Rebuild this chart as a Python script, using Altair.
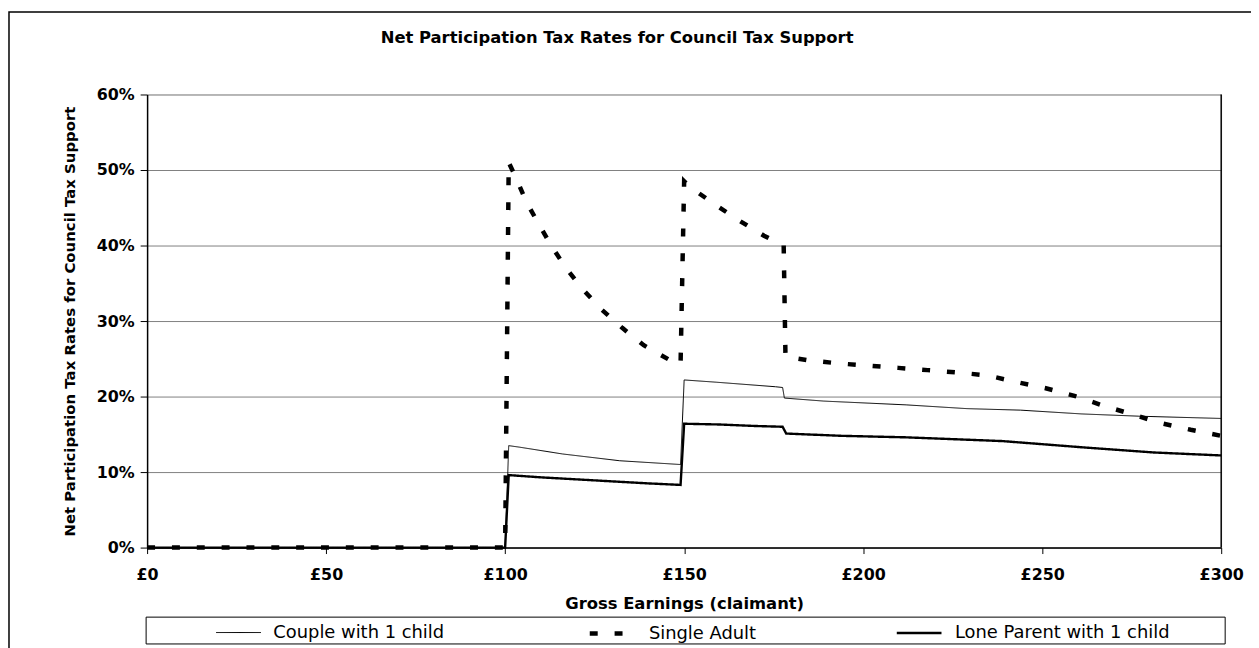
import altair as alt
import pandas as pd

series_names = ["Couple with 1 child", "Single Adult", "Lone Parent with 1 child"]

couple_x = [0, 100, 101, 104, 116, 132, 149, 150, 159, 175.5, 177.5, 178, 189, 212, 229, 244, 261, 277, 300]
couple_y = [0, 0, 13.5, 13.3, 12.4, 11.5, 11.0, 22.2, 21.9, 21.3, 21.2, 19.8, 19.4, 18.9, 18.4, 18.2, 17.7, 17.4, 17.1]

single_x = [0, 100, 101, 103, 105.8, 109.3, 113, 117, 121.7, 127, 132.7, 138.7, 145.7, 149,
            150, 151.5, 158.7, 165.4, 172.3, 177.8, 178.3, 184.7, 193, 201, 209.8, 218, 226,
            234.7, 243, 251, 259, 267, 275.5, 283, 291.5, 300]
single_y = [0, 0, 51.0, 49.0, 45.9, 42.9, 39.9, 37.0, 34.2, 31.5, 29.1, 26.8, 24.9, 24.3,
            48.5, 47.8, 45.4, 43.3, 41.3, 40.0, 25.3, 24.8, 24.4, 24.1, 23.8, 23.5, 23.2,
            22.8, 21.9, 21.1, 20.1, 18.8, 17.6, 16.5, 15.6, 14.8]

lone_x = [0, 100, 101, 110, 125, 140, 149, 150, 160, 170, 177.5, 178.5, 194, 212, 231, 239, 262, 281, 300]
lone_y = [0, 0, 9.6, 9.3, 8.9, 8.5, 8.3, 16.4, 16.3, 16.1, 16.0, 15.1, 14.8, 14.6, 14.25, 14.1, 13.25, 12.6, 12.2]

x_ticks = [0, 50, 100, 150, 200, 250, 300]
y_ticks = [0, 10, 20, 30, 40, 50, 60]

rows = []
for name, xs, ys in [(series_names[0], couple_x, couple_y),
                     (series_names[1], single_x, single_y),
                     (series_names[2], lone_x, lone_y)]:
    for i, (xv, yv) in enumerate(zip(xs, ys)):
        rows.append({"series": name, "earnings": xv, "rate": yv, "order": i})
df = pd.DataFrame(rows)

W, H = 1081, 456
FONT = "DejaVu Sans"

legend = alt.Legend(
    orient="none", legendX=69, legendY=517.5, direction="horizontal", title=None,
    labelFont=FONT, labelFontSize=18, labelColor="black", labelLimit=400, symbolType="stroke",
    symbolSize=2025, labelOffset=12, columnPadding=136, padding=0,
)

lines = alt.Chart(df).mark_line(strokeCap="butt").encode(
    x=alt.X("earnings:Q", scale=alt.Scale(domain=[0, 300], nice=False, zero=False),
            axis=alt.Axis(values=x_ticks, labelExpr="'£' + datum.value",
                          title="Gross Earnings (claimant)", grid=False, labelFlush=False,
                          labelFont=FONT, labelFontSize=16, labelFontWeight="bold", labelColor="black",
                          titleFont=FONT, titleFontSize=16.5, titleFontWeight="bold", titleColor="black",
                          titleX=W / 2, titleY=56, titleBaseline="middle",
                          tickSize=6, labelPadding=13, tickColor="black",
                          domainColor="black", domainWidth=1.5)),
    y=alt.Y("rate:Q", scale=alt.Scale(domain=[0, 60], nice=False),
            axis=alt.Axis(values=y_ticks, labelExpr="datum.value + '%'",
                          title="Net Participation Tax Rates for Council Tax Support",
                          grid=True, gridColor="#808080", gridWidth=1, labelFlush=False,
                          labelFont=FONT, labelFontSize=16, labelFontWeight="bold", labelColor="black",
                          titleFont=FONT, titleFontSize=15, titleFontWeight="bold", titleColor="black",
                          titleX=-78.5, titleY=H / 2, titleAlign="center", titleBaseline="middle",
                          titleAngle=270,
                          tickSize=7, labelPadding=6, tickColor="black",
                          domainColor="black", domainWidth=1.5)),
    color=alt.Color("series:N", scale=alt.Scale(domain=series_names, range=["black", "black", "black"]),
                    legend=legend),
    strokeDash=alt.StrokeDash("series:N", scale=alt.Scale(domain=series_names,
                                                          range=[[1, 0], [8, 17], [1, 0]]),
                              legend=legend),
    strokeWidth=alt.StrokeWidth("series:N", scale=alt.Scale(type="ordinal", domain=series_names,
                                                            range=[1, 4.5, 2.4]),
                                legend=legend),
    order="order:Q",
)

one = pd.DataFrame({"a": [0]})

right_border = alt.Chart(one).mark_rule(color="black", strokeWidth=1.5).encode(
    x=alt.value(W), y=alt.value(0), y2=alt.value(H))

legend_box = alt.Chart(one).mark_rect(fill="white", fillOpacity=0, stroke="black", strokeWidth=1).encode(
    x=alt.value(-1), x2=alt.value(1085), y=alt.value(526), y2=alt.value(553))

frame = alt.Chart(one).mark_rect(fill="white", fillOpacity=0, stroke="black", strokeWidth=1.5).encode(
    x=alt.value(-139), x2=alt.value(1125), y=alt.value(-83), y2=alt.value(570))

chart = alt.layer(lines, right_border, legend_box, frame).properties(
    width=W, height=H,
    title=alt.TitleParams("Net Participation Tax Rates for Council Tax Support",
                          font=FONT, fontSize=16.5, fontWeight="bold", color="black",
                          anchor="middle", dx=-67.5, offset=0, dy=48, baseline="alphabetic"),
    autosize=alt.AutoSizeParams(type="none"),
    padding={"left": 140, "top": 85, "right": 30, "bottom": 99},
).configure_view(stroke=None).configure(background="white")

chart.save("out.html", embed_options={"renderer": "svg", "actions": False})
